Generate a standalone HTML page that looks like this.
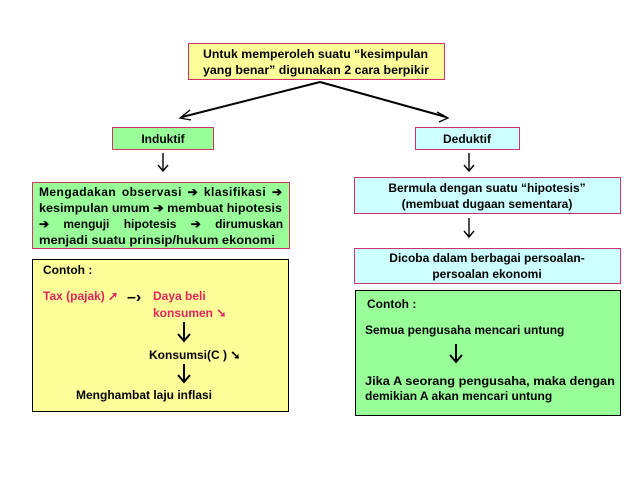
<!DOCTYPE html>
<html><head><meta charset="utf-8"><style>
body{margin:0;background:#fff;}
svg{display:block;font-family:"Liberation Sans",Arial,sans-serif;font-weight:bold;font-size:12px;}
</style></head><body>
<svg width="638" height="479" viewBox="0 0 638 479">
<rect x="188.5" y="43.5" width="256" height="36" fill="#ffff99" stroke="#cc3366" stroke-width="1"/>
<text x="203" y="58" textLength="225" lengthAdjust="spacingAndGlyphs">Untuk memperoleh suatu “kesimpulan</text>
<text x="203" y="74" textLength="226" lengthAdjust="spacingAndGlyphs">yang benar” digunakan 2 cara berpikir</text>
<line x1="320" y1="82" x2="182" y2="117" stroke="#000" stroke-width="2"/>
<polyline points="190,110 180,118 191,120" fill="none" stroke="#000" stroke-width="1.3"/>
<line x1="320" y1="82" x2="446" y2="117" stroke="#000" stroke-width="2"/>
<polyline points="437,112 448,118 439,122" fill="none" stroke="#000" stroke-width="1.3"/>
<rect x="112.5" y="127.5" width="101" height="22" fill="#99ff99" stroke="#cc3366"/>
<text x="163" y="143" text-anchor="middle">Induktif</text>
<rect x="415.5" y="127.5" width="104" height="22" fill="#ccffff" stroke="#cc3366"/>
<text x="467" y="143" text-anchor="middle">Deduktif</text>
<rect x="32.5" y="182.5" width="257" height="66" fill="#99ff99" stroke="#cc3366"/>
<g font-size="12">
<text x="39" y="196" textLength="243" lengthAdjust="spacing" word-spacing="2">Mengadakan observasi ➔ klasifikasi ➔</text>
<text x="39" y="212" textLength="243" lengthAdjust="spacingAndGlyphs">kesimpulan umum ➔ membuat hipotesis</text>
<text x="39" y="228" word-spacing="11">➔ menguji hipotesis ➔ dirumuskan</text>
<text x="39" y="244" textLength="236" lengthAdjust="spacingAndGlyphs">menjadi suatu prinsip/hukum ekonomi</text>
</g>
<rect x="32.5" y="259.5" width="256" height="152" fill="#ffff99" stroke="#000"/>
<text x="43" y="274">Contoh :</text>
<text x="43" y="300" fill="#e0245e">Tax (pajak) ➚</text>
<text x="127" y="302" font-size="16">–›</text>
<text x="153" y="300" fill="#e0245e">Daya beli</text>
<text x="153" y="317" fill="#e0245e">konsumen ➘</text>
<text x="149" y="359">Konsumsi(C ) ➘</text>
<text x="76" y="399">Menghambat laju inflasi</text>
<rect x="354.5" y="177.5" width="266" height="36" fill="#ccffff" stroke="#cc3366"/>
<text x="487" y="192" text-anchor="middle">Bermula dengan suatu “hipotesis”</text>
<text x="487" y="208" text-anchor="middle">(membuat dugaan sementara)</text>
<rect x="354.5" y="248.5" width="266" height="35" fill="#ccffff" stroke="#cc3366"/>
<text x="487" y="262" text-anchor="middle">Dicoba dalam berbagai persoalan-</text>
<text x="487" y="278" text-anchor="middle">persoalan ekonomi</text>
<rect x="355.5" y="290.5" width="265" height="125" fill="#99ff99" stroke="#000"/>
<text x="367" y="308">Contoh :</text>
<text x="365" y="334">Semua pengusaha mencari untung</text>
<text x="365" y="385" textLength="250" lengthAdjust="spacingAndGlyphs">Jika A seorang pengusaha, maka dengan</text>
<text x="365" y="400">demikian A akan mencari untung</text>
<g stroke="#000" stroke-width="1.4" fill="none">
<line x1="163" y1="153" x2="163" y2="170"/><polyline points="158,165 163,171 168,165"/>
<line x1="469" y1="153" x2="469" y2="170"/><polyline points="464,165 469,171 474,165"/>
<line x1="469" y1="218" x2="469" y2="236"/><polyline points="464,231 469,237 474,231"/>
</g>
<g stroke="#000" stroke-width="2" fill="none">
<line x1="184" y1="322" x2="184" y2="340"/><polyline points="178,334 184,341 190,334"/>
<line x1="184" y1="364" x2="184" y2="381"/><polyline points="178,375 184,382 190,375"/>
<line x1="456" y1="344" x2="456" y2="361"/><polyline points="450,355 456,362 462,355"/>
</g>
</svg>
</body></html>
